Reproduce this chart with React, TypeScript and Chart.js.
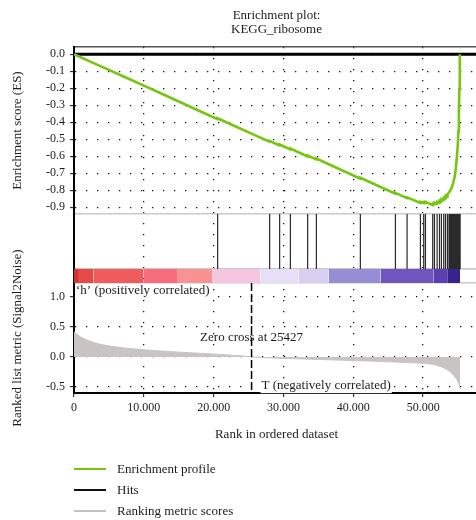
import React, { useEffect, useRef } from 'react';
import { Chart, registerables } from 'chart.js';

Chart.register(...registerables);

const FONT = '"Liberation Serif", "Times New Roman", Times, serif';
const INK = '#1c1c1c';
const GREEN = '#76C610';
const METRIC_GRAY = '#C8C4C4';

// ---- text ----
const titleLines = ['Enrichment plot:', 'KEGG_ribosome'];
const esAxisTitle = 'Enrichment score (ES)';
const metricAxisTitle = 'Ranked list metric (Signal2Noise)';
const rankAxisTitle = 'Rank in ordered dataset';
const posLabel = '\u2018h\u2019 (positively correlated)';
const negLabel = 'T (negatively correlated)';
const zeroCross = 25427;

// ---- axis ranges ----
const rankMax = 58000;
const rankTicks = [0, 10000, 20000, 30000, 40000, 50000];
const esMin = -0.94;
const esMax = 0.043;
const esStep = 0.1;
const metricMin = -0.6;
const metricMax = 1.23;
const metricStep = 0.5;

// ---- running enrichment score ----
const esRanks = [
  0, 2500, 5000, 7500, 10000, 12500, 15000, 17500, 20570, 20580, 23000, 25500,
  28020, 28030, 29450, 29460, 30990, 31000, 33460, 33470, 34710, 34720, 37500,
  41010, 41020, 43900, 46030, 46040, 47700, 47710, 49610, 49620, 50080, 50090,
  50330, 50340, 51370, 51380, 51620, 51630, 52000, 52010, 52340, 52350, 52620,
  52630, 52950, 52960, 53200, 53210, 53480, 53490, 53700, 53900, 54100, 54300,
  54500, 54650, 54800, 54950, 55050, 55120, 55180, 55230, 55270,
];
const esScores = [
  0, -0.046, -0.092, -0.138, -0.184, -0.231, -0.278, -0.325, -0.382, -0.377, -0.422, -0.468,
  -0.515, -0.51, -0.536, -0.531, -0.56, -0.555, -0.601, -0.596, -0.619, -0.614, -0.666,
  -0.732, -0.727, -0.781, -0.821, -0.816, -0.847, -0.842, -0.875, -0.869, -0.877, -0.871,
  -0.875, -0.869, -0.888, -0.879, -0.883, -0.873, -0.879, -0.868, -0.873, -0.861, -0.866,
  -0.853, -0.858, -0.844, -0.848, -0.833, -0.838, -0.822, -0.814, -0.8, -0.785, -0.758,
  -0.722, -0.682, -0.622, -0.54, -0.452, -0.335, -0.205, -0.095, 0,
];

// ---- gene set hits ----
const hitRanks = [
  20570, 28020, 29450, 30990, 33460, 34710, 41010, 46030, 47700, 49610, 50080,
  50330, 51370, 51620, 52000, 52340, 52620, 52950, 53200, 53480, 53700, 53790,
  53880, 53960, 54040, 54110, 54180, 54250, 54320, 54380, 54440, 54500, 54560,
  54610, 54660, 54710, 54760, 54810, 54860, 54900, 54940, 54980, 55020, 55060,
  55100, 55140, 55180, 55220, 55260, 55300,
];

// ---- ranked list metric ----
const metricRanks = [
  0, 300, 900, 1800, 2800, 4000, 5200, 7500, 10000, 12500, 15000, 17500, 20000,
  22500, 24300, 25427, 27000, 30000, 35000, 40000, 44000, 47000, 50000, 51500,
  52500, 53300, 53900, 54400, 54800, 55100, 55250, 55300,
];
const metricScores = [
  0.42, 0.385, 0.335, 0.285, 0.24, 0.205, 0.18, 0.145, 0.118, 0.098, 0.08, 0.064, 0.048,
  0.03, 0.014, 0, -0.01, -0.024, -0.042, -0.06, -0.076, -0.09, -0.105, -0.125,
  -0.16, -0.2, -0.25, -0.31, -0.37, -0.44, -0.5, -0.53,
];

// ---- colour band of the ranked list ----
const bandEdges = [0, 700, 2800, 9970, 14750, 19790, 26700, 32170, 36470, 43900, 51520, 53440, 55300];
const bandColors = [
  '#D9302E', '#E64A48', '#F05C5D', '#F66D80', '#F99393', '#F6C6E0',
  '#E6DFF5', '#D9CDF0', '#978DD5', '#6E56BE', '#5B40B3', '#37238F',
];

// ---- legend ----
const legendLabels = ['Enrichment profile', 'Hits', 'Ranking metric scores'];
const legendColors = [GREEN, '#111111', '#C2C2C2'];
const legendThickness = [2, 2.5, 2];

const dotted = [1.3, 9.7];
const tickFont = { family: FONT, size: 12 };
const titleFont = { family: FONT, size: 13 };

const fmtRank = (v: number) => String(v).replace(/\B(?=(\d{3})+(?!\d))/g, '.');

const panelAxis = (weight: number, stackWeight: number) => ({
  type: 'linear',
  position: 'left',
  stack: 'panels',
  weight,
  stackWeight,
  afterFit: (s: any) => {
    s.width = 74;
  },
});

const headerPlugin = {
  id: 'plotHeader',
  afterDraw(chart: any) {
    const { ctx, chartArea } = chart;
    const cx = (chartArea.left + chartArea.right) / 2;
    ctx.save();
    ctx.font = `13px ${FONT}`;
    ctx.fillStyle = INK;
    ctx.textAlign = 'center';
    ctx.textBaseline = 'middle';
    titleLines.forEach((t, i) => ctx.fillText(t, cx, 16 + i * 14));
    ctx.restore();
  },
};

const notesPlugin = {
  id: 'rankNotes',
  beforeDatasetsDraw(chart: any) {
    const { ctx } = chart;
    const xs = chart.scales.x;
    const ys = chart.scales.yMetric;
    ctx.save();
    ctx.font = `13px ${FONT}`;
    ctx.textBaseline = 'middle';
    const put = (text: string, px: number, py: number, align: CanvasTextAlign, backed: boolean) => {
      ctx.textAlign = align;
      if (backed) {
        const w = ctx.measureText(text).width;
        const x0 = align === 'center' ? px - w / 2 : px;
        ctx.fillStyle = '#ffffff';
        ctx.fillRect(x0 - 1, py - 6, w + 2, 14);
      }
      ctx.fillStyle = INK;
      ctx.fillText(text, px, py);
    };
    put(posLabel, xs.getPixelForValue(0) + 2, ys.getPixelForValue(1.1), 'left', true);
    put(`Zero cross at ${zeroCross}`, xs.getPixelForValue(zeroCross), ys.getPixelForValue(0.33), 'center', false);
    put(negLabel, xs.getPixelForValue(zeroCross) + 10, ys.getPixelForValue(-0.47), 'left', true);
    ctx.restore();
  },
};

export default function App() {
  const canvasRef = useRef<HTMLCanvasElement>(null);

  useEffect(() => {
    if (!canvasRef.current) return;

    const line = { pointRadius: 0, pointHoverRadius: 0, tension: 0, xAxisID: 'x' };

    const datasets: any[] = [
      {
        ...line,
        label: 'Enrichment profile',
        data: esRanks.map((r, i) => ({ x: r, y: esScores[i] })),
        yAxisID: 'yES',
        borderColor: GREEN,
        borderWidth: 2.6,
        fill: false,
      },
      {
        ...line,
        label: 'ES zero',
        data: [{ x: 0, y: 0 }, { x: rankMax, y: 0 }],
        yAxisID: 'yES',
        borderColor: '#000000',
        borderWidth: 3,
        fill: false,
      },
      {
        ...line,
        label: 'Zero cross',
        data: [{ x: zeroCross, y: metricMax }, { x: zeroCross, y: metricMin }],
        yAxisID: 'yMetric',
        borderColor: '#000000',
        borderWidth: 1.5,
        borderDash: [8, 3],
        fill: false,
      },
      {
        ...line,
        label: 'Hits',
        data: hitRanks.flatMap((r) => [{ x: r, y: 0 }, { x: r, y: 1 }, { x: r, y: null }]),
        yAxisID: 'yHits',
        borderColor: '#2a2a2a',
        borderWidth: 1.2,
        spanGaps: false,
        fill: false,
      },
      ...bandColors.map((c, i) => ({
        ...line,
        label: `band ${i}`,
        data: [{ x: bandEdges[i], y: 1 }, { x: bandEdges[i + 1], y: 1 }],
        yAxisID: 'yBar',
        borderColor: 'rgba(0,0,0,0)',
        borderWidth: 1,
        backgroundColor: c,
        fill: 'origin',
      })),
      {
        ...line,
        label: 'Ranking metric scores',
        data: metricRanks.map((r, i) => ({ x: r, y: metricScores[i] })),
        yAxisID: 'yMetric',
        borderColor: METRIC_GRAY,
        borderWidth: 1,
        backgroundColor: METRIC_GRAY,
        fill: 'origin',
      },
    ];

    const chart = new Chart(canvasRef.current, {
      type: 'line',
      data: { datasets },
      options: {
        responsive: false,
        animation: false,
        events: [],
        layout: { padding: { left: 0, right: 11, top: 47, bottom: 78 } },
        plugins: {
          legend: { display: false },
          tooltip: { enabled: false },
          title: { display: false },
        },
        scales: {
          x: {
            type: 'linear',
            position: 'bottom',
            min: 0,
            max: rankMax,
            afterBuildTicks: (s: any) => {
              s.ticks = rankTicks.map((value) => ({ value }));
            },
            ticks: {
              autoSkip: false,
              maxRotation: 0,
              padding: 4,
              color: INK,
              font: tickFont,
              callback: (v: any) => fmtRank(Number(v)),
            },
            grid: { color: '#111111', lineWidth: 1.3, tickLength: 4, tickColor: '#111111', tickWidth: 1 },
            border: { display: true, color: '#000000', width: 2, dash: dotted },
            title: { display: true, text: rankAxisTitle, color: INK, font: titleFont, padding: { top: 7, bottom: 0 } },
          },
          x2: {
            type: 'linear',
            position: 'top',
            min: 0,
            max: rankMax,
            ticks: { display: false },
            grid: { display: false, drawTicks: false },
            border: { display: true, color: '#555555', width: 1.5 },
          },
          yES: {
            ...panelAxis(4, 167),
            min: esMin,
            max: esMax,
            ticks: {
              stepSize: esStep,
              includeBounds: false,
              maxTicksLimit: 20,
              autoSkip: false,
              padding: 5,
              color: INK,
              font: tickFont,
              callback: (v: any) => Number(v).toFixed(1),
            },
            grid: { color: '#111111', lineWidth: 1.3, tickLength: 4, tickColor: '#111111', tickWidth: 1 },
            border: { display: true, color: '#000000', width: 2, dash: dotted },
            title: { display: true, text: esAxisTitle, color: INK, font: titleFont, padding: { top: 10, bottom: 0 } },
          },
          yHits: {
            ...panelAxis(3, 55),
            min: 0,
            max: 1,
            ticks: { display: false, stepSize: 1 },
            grid: { color: '#C9C9C9', lineWidth: 1.5, drawTicks: false },
            border: { display: true, color: '#000000', width: 2, dash: [] },
          },
          yBar: {
            ...panelAxis(2, 14),
            min: 0,
            max: 1,
            ticks: { display: false, stepSize: 1 },
            grid: { color: '#C9C9C9', lineWidth: 1.5, drawTicks: false },
            border: { display: true, color: '#000000', width: 2, dash: [] },
          },
          yMetric: {
            ...panelAxis(1, 110),
            min: metricMin,
            max: metricMax,
            ticks: {
              stepSize: metricStep,
              includeBounds: false,
              maxTicksLimit: 20,
              autoSkip: false,
              padding: 5,
              color: INK,
              font: tickFont,
              callback: (v: any) => Number(v).toFixed(1),
            },
            grid: { color: '#111111', lineWidth: 1.3, tickLength: 4, tickColor: '#111111', tickWidth: 1 },
            border: { display: true, color: '#000000', width: 2, dash: dotted },
            title: { display: true, text: metricAxisTitle, color: INK, font: titleFont, padding: { top: 10, bottom: 0 } },
          },
        },
      } as any,
      plugins: [headerPlugin, notesPlugin],
    });

    return () => chart.destroy();
  }, []);

  return (
    <div
      style={{
        position: 'fixed',
        left: 0,
        top: 0,
        width: 476,
        height: 520,
        overflow: 'hidden',
        background: '#ffffff',
      }}
    >
      <canvas ref={canvasRef} width={490} height={520} style={{ display: 'block' }} />
      <div
        style={{
          position: 'absolute',
          left: 74,
          top: 458.5,
          fontFamily: FONT,
          fontSize: 13,
          color: INK,
        }}
      >
        {legendLabels.map((label, i) => (
          <div key={label} style={{ display: 'flex', alignItems: 'center', height: 21 }}>
            <span
              style={{
                display: 'inline-block',
                width: 32,
                height: legendThickness[i],
                background: legendColors[i],
                marginRight: 11,
              }}
            />
            <span>{label}</span>
          </div>
        ))}
      </div>
    </div>
  );
}
